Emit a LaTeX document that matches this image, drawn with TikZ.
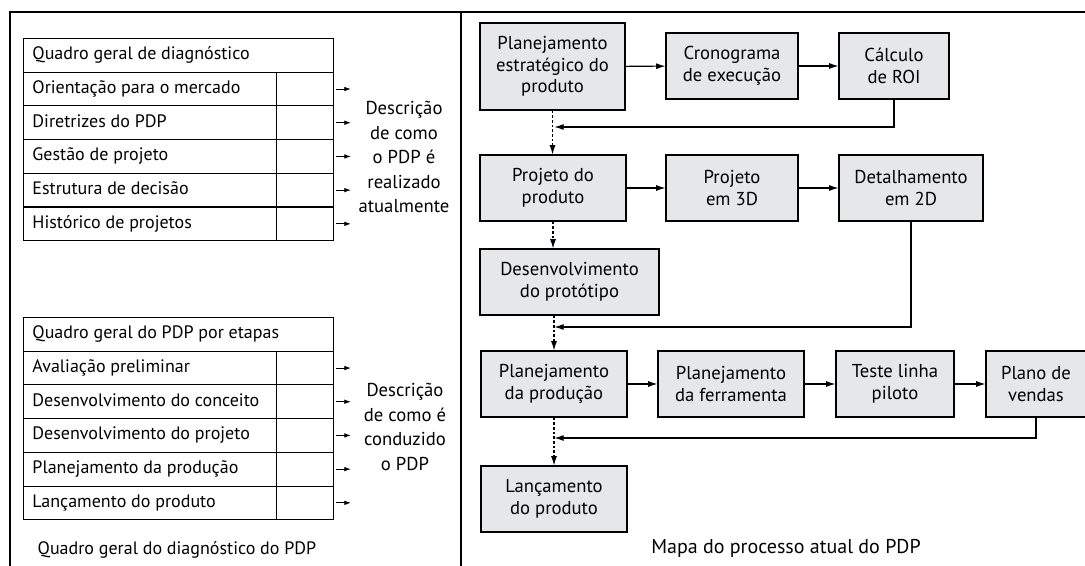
\documentclass[tikz,border=0pt]{standalone}
\usepackage{fontspec}
\setmainfont{PT Sans}
\usetikzlibrary{arrows.meta}
\definecolor{boxgray}{RGB}{230,231,232}
\tikzset{
  procbox/.style={draw, line width=0.8pt, fill=boxgray, align=center, minimum height=49.5pt, inner sep=2pt, font=\fontsize{14}{16.3}\selectfont},
  rowcell/.style={draw, line width=0.7pt, anchor=north west, minimum height=25.3pt, minimum width=189.75pt, inner xsep=6.75pt, inner ysep=2pt, text height=10pt, text depth=3.5pt, font=\fontsize{13.5}{16}\selectfont},
  headcell/.style={rowcell, minimum width=232.5pt},
  blankcell/.style={draw, line width=0.7pt, anchor=north west, minimum height=25.3pt, minimum width=42.75pt, inner sep=0pt},
  flow/.style={-{Latex[length=7pt,width=4.5pt]}, line width=0.8pt},
  seqflow/.style={flow, dash pattern=on 2pt off 1.5pt},
  tabarrow/.style={-{Latex[length=5pt,width=3.5pt]}, line width=0.7pt, shorten <=1.5pt},
  desctext/.style={align=center, font=\fontsize{14}{18.4}\selectfont},
  captext/.style={font=\fontsize{13.5}{16}\selectfont}
}
\newcommand{\celltext}[1]{\makebox[176.25pt][l]{#1}}
\newcommand{\headtext}[1]{\makebox[219pt][l]{#1}}
\begin{document}
\begin{tikzpicture}[x=0.75pt, y=-0.75pt]
        \useasboundingbox (0,0) rectangle (1085,566);

        % Frame
        \draw[line width=1pt] (1085,12) -- (10,12) -- (10,566);
        \draw[line width=0.8pt] (461,12) -- (461,566);

        % Table 1
        \node[headcell] (t1h) at (23,38) {\headtext{Quadro geral de diagnóstico}};
        \node[rowcell] (t1r1) at (23,71.7) {\celltext{Orientação para o mercado}};
        \node[rowcell] (t1r2) at (23,105.4) {\celltext{Diretrizes do PDP}};
        \node[rowcell] (t1r3) at (23,139.1) {\celltext{Gestão de projeto}};
        \node[rowcell] (t1r4) at (23,172.8) {\celltext{Estrutura de decisão}};
        \node[rowcell] (t1r5) at (23,206.5) {\celltext{Histórico de projetos}};
        \node[blankcell] (t1b1) at (276,71.7) {};
        \node[blankcell] (t1b2) at (276,105.4) {};
        \node[blankcell] (t1b3) at (276,139.1) {};
        \node[blankcell] (t1b4) at (276,172.8) {};
        \node[blankcell] (t1b5) at (276,206.5) {};
        \node[desctext] (desc1) at (404,157) {Descrição\\de como\\o PDP é\\realizado\\atualmente};

        \draw[tabarrow] (t1b1.east) -- ++(17,0);
        \draw[tabarrow] (t1b2.east) -- ++(17,0);
        \draw[tabarrow] (t1b3.east) -- ++(17,0);
        \draw[tabarrow] (t1b4.east) -- ++(17,0);
        \draw[tabarrow] (t1b5.east) -- ++(17,0);

        % Table 2
        \node[headcell] (t2h) at (23,317) {\headtext{Quadro geral do PDP por etapas}};
        \node[rowcell] (t2r1) at (23,350.7) {\celltext{Avaliação preliminar}};
        \node[rowcell] (t2r2) at (23,384.4) {\celltext{Desenvolvimento do conceito}};
        \node[rowcell] (t2r3) at (23,418.1) {\celltext{Desenvolvimento do projeto}};
        \node[rowcell] (t2r4) at (23,451.8) {\celltext{Planejamento da produção}};
        \node[rowcell] (t2r5) at (23,485.5) {\celltext{Lançamento do produto}};
        \node[blankcell] (t2b1) at (276,350.7) {};
        \node[blankcell] (t2b2) at (276,384.4) {};
        \node[blankcell] (t2b3) at (276,418.1) {};
        \node[blankcell] (t2b4) at (276,451.8) {};
        \node[blankcell] (t2b5) at (276,485.5) {};
        \node[desctext] (desc2) at (405,427) {Descrição\\de como é\\conduzido\\o PDP};

        \draw[tabarrow] (t2b1.east) -- ++(17,0);
        \draw[tabarrow] (t2b2.east) -- ++(17,0);
        \draw[tabarrow] (t2b3.east) -- ++(17,0);
        \draw[tabarrow] (t2b4.east) -- ++(17,0);
        \draw[tabarrow] (t2b5.east) -- ++(17,0);

        \node[captext] (cap1) at (177,550) {Quadro geral do diagnóstico do PDP};

        % Process map, row 1
        \node[procbox, minimum width=108.75pt, minimum height=65.25pt] (plan) at (552.5,66.5) {Planejamento\\estratégico do\\produto};
        \node[procbox, minimum width=99pt] (crono) at (732,66) {Cronograma\\de execução};
        \node[procbox, minimum width=82.5pt] (roi) at (894,66) {Cálculo\\de ROI};

        % Process map, row 2
        \node[procbox, minimum width=109.5pt] (proj) at (553,188) {Projeto do\\produto};
        \node[procbox, minimum width=99pt] (proj3d) at (732,188) {Projeto\\em 3D};
        \node[procbox, minimum width=108pt] (det2d) at (911,188) {Detalhamento\\em 2D};
        \node[procbox, minimum width=134.25pt] (proto) at (569.5,282) {Desenvolvimento\\do protótipo};

        % Process map, row 3
        \node[procbox, minimum width=109.5pt] (prod) at (554,384) {Planejamento\\da produção};
        \node[procbox, minimum width=109.5pt] (ferr) at (731,384) {Planejamento\\da ferramenta};
        \node[procbox, minimum width=88.5pt] (teste) at (895,384) {Teste linha\\piloto};
        \node[procbox, minimum width=75pt] (vendas) at (1036,384) {Plano de\\vendas};
        \node[procbox, minimum width=109.5pt] (lanc) at (554,499) {Lançamento\\do produto};

        \node[captext, font=\fontsize{15}{17}\selectfont] (cap2) at (786,548) {Mapa do processo atual do PDP};

        \draw[flow] (plan) -- (crono);
        \draw[flow] (crono) -- (roi);
        \draw[flow] (proj) -- (proj3d);
        \draw[flow] (proj3d) -- (det2d);
        \draw[flow] (prod) -- (ferr);
        \draw[flow] (ferr) -- (teste);
        \draw[flow] (teste) -- (vendas);

        % Sequence edges
        \draw[seqflow] (plan.south) -- (plan.south |- proj.north);
        \draw[seqflow] (proj.south) -- (proj.south |- proto.north);
        \draw[seqflow] (prod.north |- proto.south) -- (prod.north);
        \draw[seqflow] (prod.south) -- (prod.south |- lanc.north);

        % Return edges
        \coordinate (back1) at (553,127);
        \coordinate (back2) at (553,327);
        \coordinate (back3) at (553,438);
        \draw[flow, shorten >=1pt] (roi.south) |- (back1);
        \draw[flow, shorten >=1pt] (det2d.south) |- (back2);
        \draw[flow, shorten >=1pt] (vendas.south) |- (back3);

\end{tikzpicture}
\end{document}
